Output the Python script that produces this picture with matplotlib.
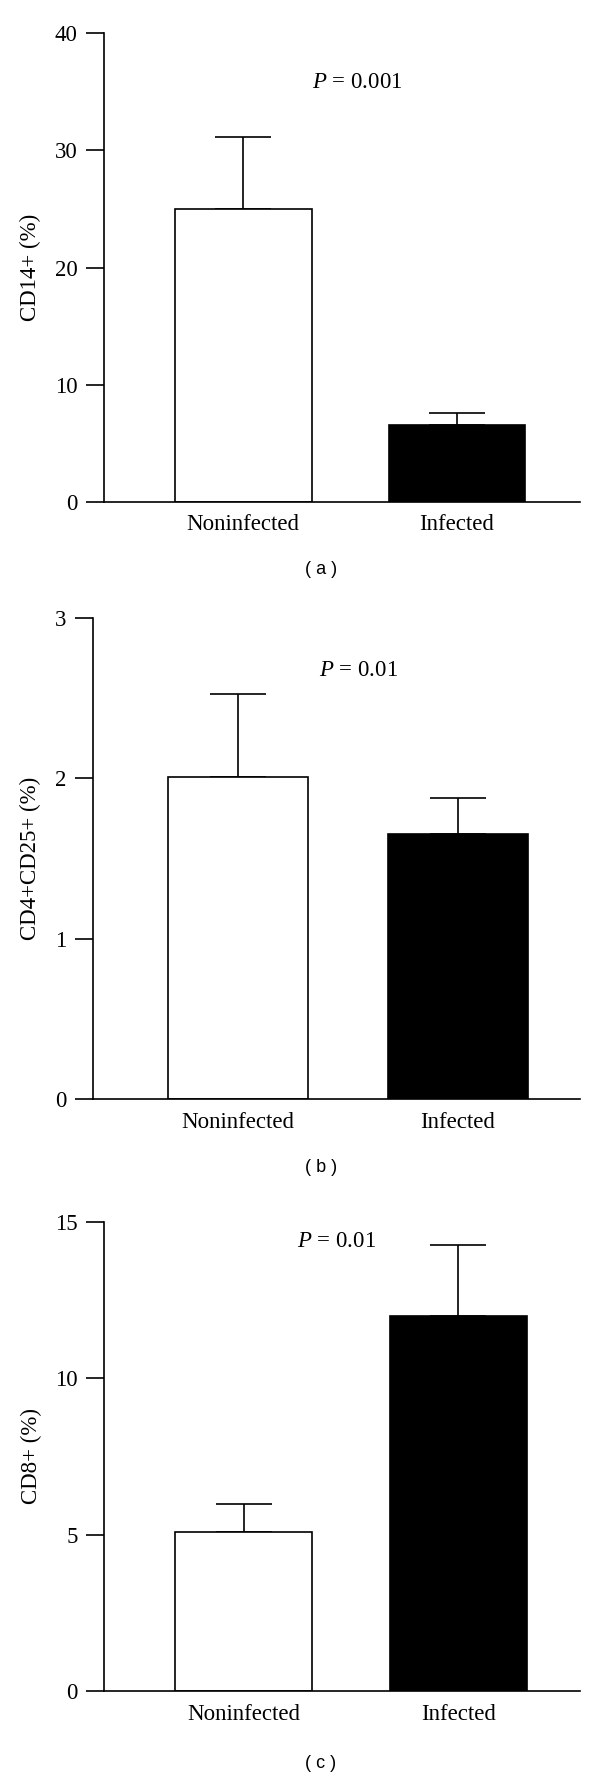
import numpy as np
import matplotlib
matplotlib.use("Agg")
import matplotlib.pyplot as plt

groups = ["Noninfected", "Infected"]

cd14 = [24.95, 6.6]
cd14_err = [6.15, 1.0]

cd4cd25 = [2.01, 1.65]
cd4cd25_err = [0.515, 0.23]

cd8 = [5.1, 11.98]
cd8_err = [0.89, 2.3]

plt.rcParams['font.family'] = ['Liberation Serif', 'DejaVu Serif']
plt.rcParams['mathtext.fontset'] = 'custom'
plt.rcParams['mathtext.rm'] = 'Liberation Serif'
plt.rcParams['mathtext.it'] = 'Liberation Serif:italic'

W, H = 600, 1777
fig = plt.figure(figsize=(W / 100, H / 100), dpi=100)


def box(left, right, top, bottom):
    return [left / W, 1 - bottom / H, (right - left) / W, (bottom - top) / H]


panels = [
    # values, errors, ylabel, ymax, ticks, p text, p pos, caption, caption y, box, xlim, label x
    (cd14, cd14_err, "CD14+ (%)", 40, [0, 10, 20, 30, 40], "0.001", (0.32, 35.8),
     "( a )", 570, box(104, 580, 33, 502), (-0.65, 1.575), -0.132),
    (cd4cd25, cd4cd25_err, "CD4+CD25+ (%)", 3, [0, 1, 2, 3], "0.01", (0.37, 2.67),
     "( b )", 1168, box(93, 580, 618, 1099), (-0.66, 1.555), -0.107),
    (cd8, cd8_err, "CD8+ (%)", 15, [0, 5, 10, 15], "0.01", (0.25, 14.39),
     "( c )", 1763, box(104, 580, 1222, 1691), (-0.65, 1.566), -0.130),
]

x = np.arange(len(groups))
fs = 16.5

for vals, errs, ylab, ymax, ticks, ptxt, ppos, cap, cap_y, rect, xlim, labx in panels:
    ax = fig.add_axes(rect)
    ax.bar(x, vals, width=0.64, color=["white", "black"], edgecolor="black",
           linewidth=1.2, zorder=2)
    ax.errorbar(x, vals, yerr=[np.zeros(len(vals)), errs], fmt="none",
                ecolor="black", elinewidth=1.2, capsize=20.5, capthick=1.2, zorder=1)
    ax.set_xlim(*xlim)
    ax.set_ylim(0, ymax)
    ax.set_yticks(ticks)
    ax.set_xticks(x)
    ax.set_xticklabels(groups)
    ax.spines["top"].set_visible(False)
    ax.spines["right"].set_visible(False)
    ax.spines["left"].set_linewidth(1.2)
    ax.spines["bottom"].set_linewidth(1.2)
    ax.tick_params(axis="y", length=13, width=1.2, pad=6, labelsize=fs)
    ax.tick_params(axis="x", length=0, pad=9, labelsize=fs)
    ax.set_ylabel(ylab, fontsize=fs)
    ax.yaxis.set_label_coords(labx, 0.5)
    ax.text(ppos[0], ppos[1], "$P$ = " + ptxt, fontsize=fs, va="center", ha="left")
    fig.text(321 / W, 1 - cap_y / H, cap, fontsize=13, family="Liberation Sans",
             ha="center", va="center")

fig.savefig("out.png", dpi=100, facecolor="white")
